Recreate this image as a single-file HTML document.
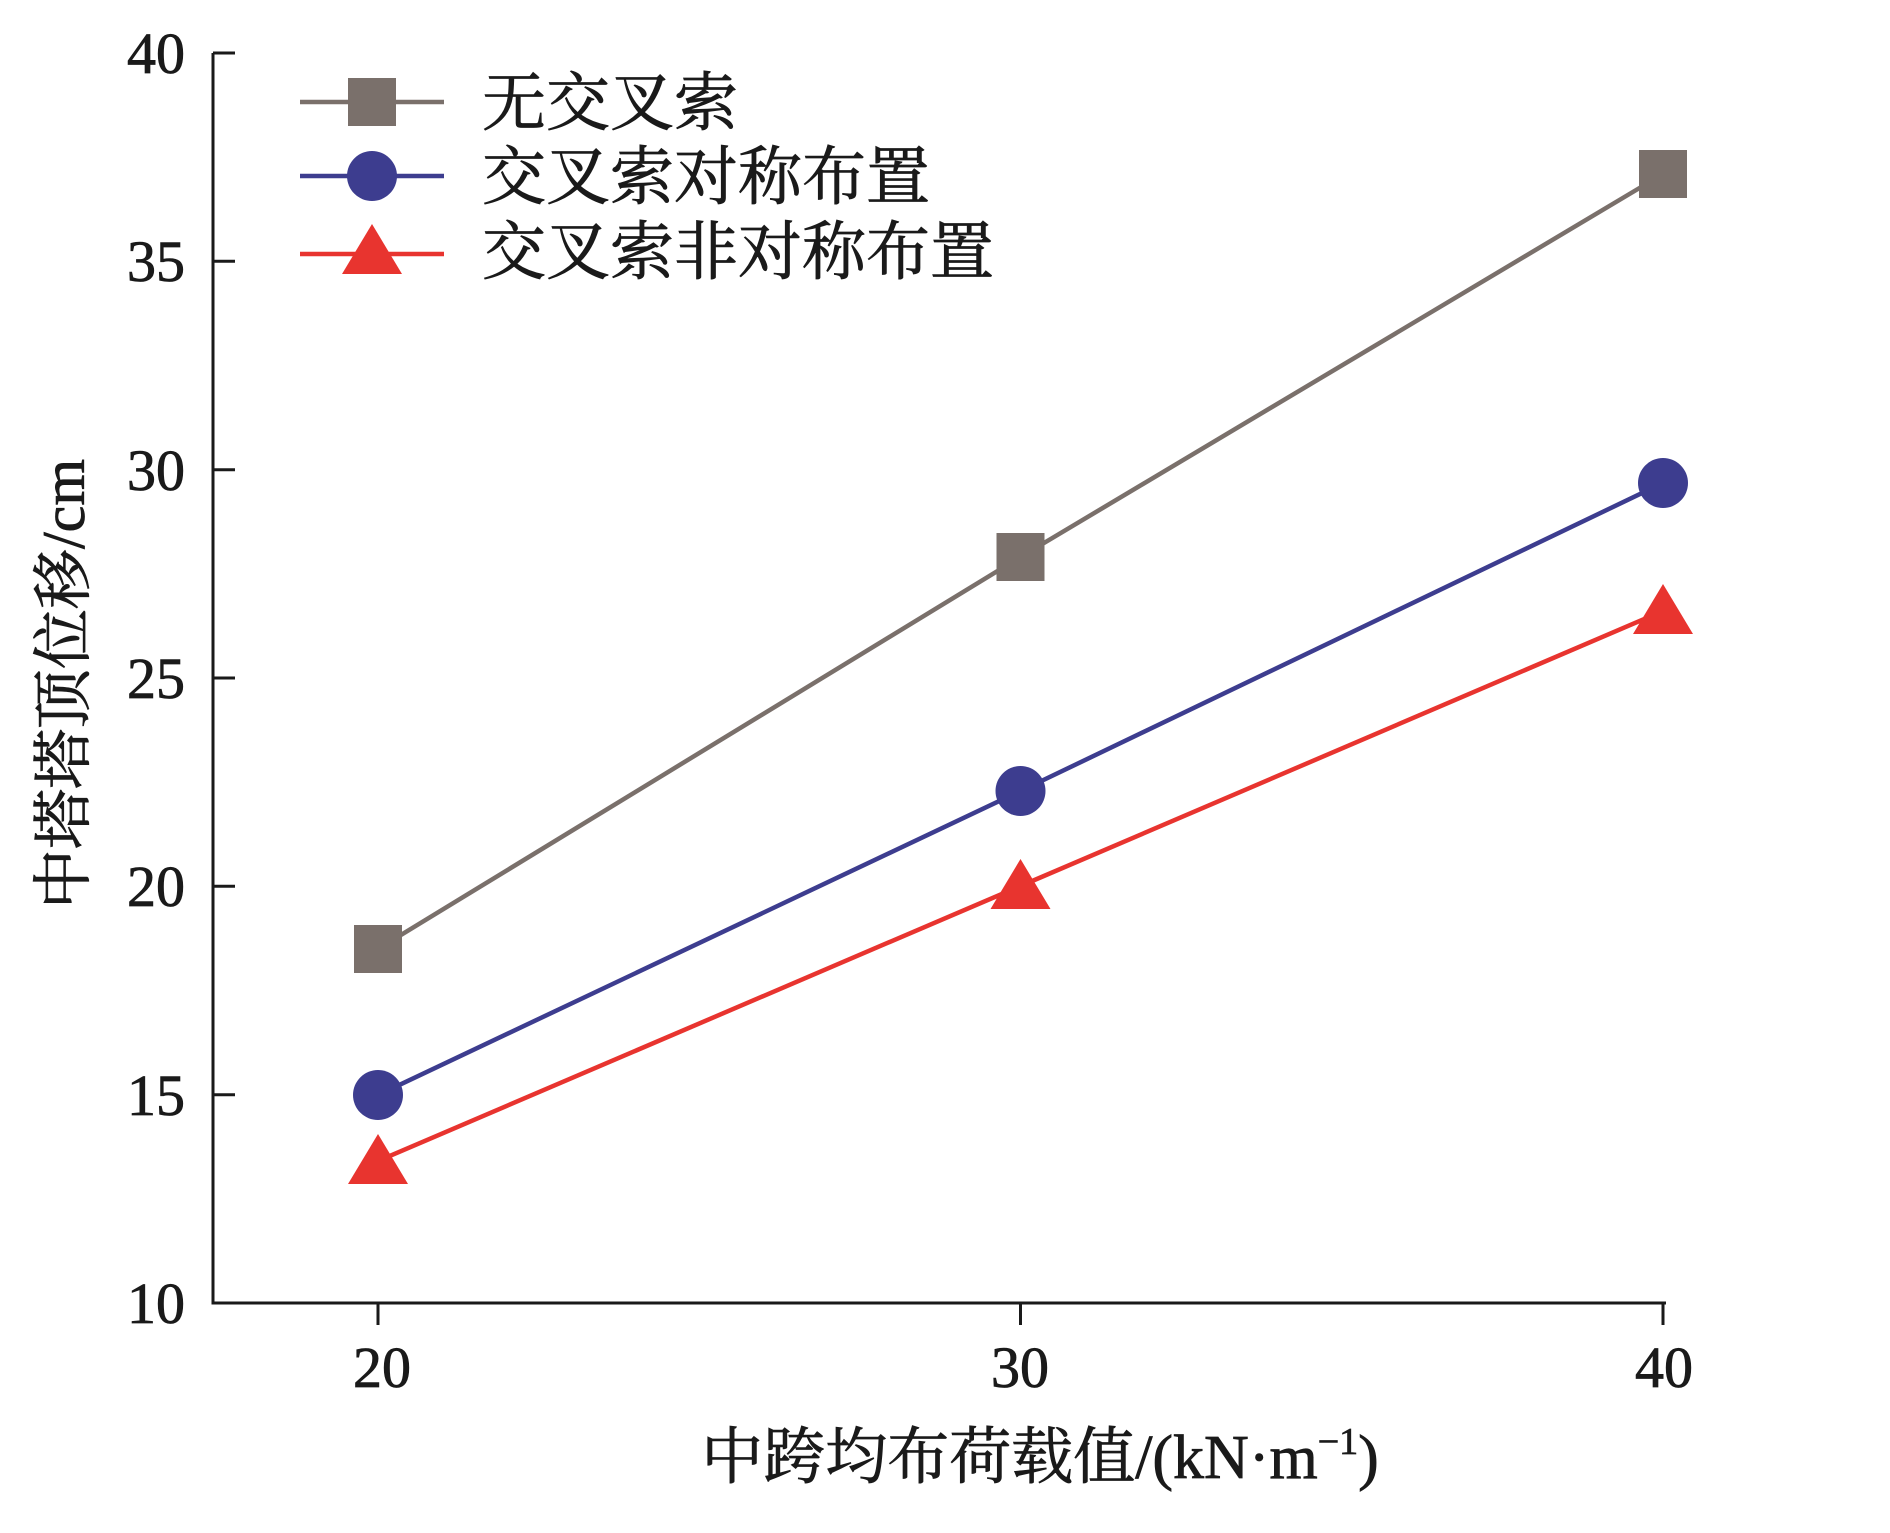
<!DOCTYPE html>
<html><head><meta charset="utf-8"><style>
body{margin:0;background:#fff}
text{font-family:"Liberation Serif","Noto Serif CJK SC",serif;fill:#1a1a1a;stroke:#1a1a1a;stroke-width:0.8}
</style></head><body>
<svg width="1890" height="1528" viewBox="0 0 1890 1528" xmlns="http://www.w3.org/2000/svg">
<g stroke="#1a1a1a" stroke-width="3" fill="none">
<path d="M213 53 V1303 H1666"/>
<path d="M213 53 h22 M213 261.3 h22 M213 469.7 h22 M213 678 h22 M213 886.3 h22 M213 1094.7 h22"/>
<path d="M378 1303 v22 M1020.5 1303 v22 M1663 1303 v22"/>
</g>
<g font-size="58" text-anchor="end">
<text x="185" y="73">40</text><text x="185" y="281">35</text><text x="185" y="490">30</text>
<text x="185" y="698">25</text><text x="185" y="906">20</text><text x="185" y="1115">15</text><text x="185" y="1323">10</text>
</g>
<g font-size="58" text-anchor="middle">
<text x="382" y="1387">20</text><text x="1020" y="1387">30</text><text x="1664" y="1387">40</text>
</g>
<text x="1040" y="1478" font-size="62" text-anchor="middle">中跨均布荷载值/(kN·m<tspan font-size="38" dy="-24">−1</tspan><tspan dy="24">)</tspan></text>
<text transform="translate(84,684) rotate(-90)" font-size="60" text-anchor="middle">中塔塔顶位移/cm</text>
<polyline points="378,949 1020.5,557 1663,174" stroke="#7a706b" stroke-width="4.5" fill="none"/>
<polyline points="378,1095 1020.5,791 1663,483" stroke="#3d3d8f" stroke-width="4.5" fill="none"/>
<polyline points="378,1161 1020.5,886 1663,611" stroke="#e8342f" stroke-width="4.5" fill="none"/>
<g fill="#7a706b"><rect x="354" y="925" width="48" height="48"/><rect x="996.5" y="533" width="48" height="48"/><rect x="1639" y="150" width="48" height="48"/></g>
<g fill="#3d3d8f"><circle cx="378" cy="1095" r="25"/><circle cx="1020.5" cy="791" r="25"/><circle cx="1663" cy="483" r="25"/></g>
<g fill="#e8342f"><path d="M378 1134 l30 50 h-60z"/><path d="M1020.5 859 l30 50 h-60z"/><path d="M1663 584 l30 50 h-60z"/></g>
<line x1="300" y1="102" x2="444" y2="102" stroke="#7a706b" stroke-width="4.5"/>
<rect x="348" y="78" width="48" height="48" fill="#7a706b"/>
<line x1="300" y1="176" x2="444" y2="176" stroke="#3d3d8f" stroke-width="4.5"/>
<circle cx="372" cy="176" r="25" fill="#3d3d8f"/>
<line x1="300" y1="254" x2="444" y2="254" stroke="#e8342f" stroke-width="4.5"/>
<path d="M372 224 l30 50 h-60z" fill="#e8342f"/>
<g font-size="64"><text x="482" y="125">无交叉索</text><text x="482" y="199">交叉索对称布置</text><text x="482" y="274">交叉索非对称布置</text></g>
</svg>
</body></html>
